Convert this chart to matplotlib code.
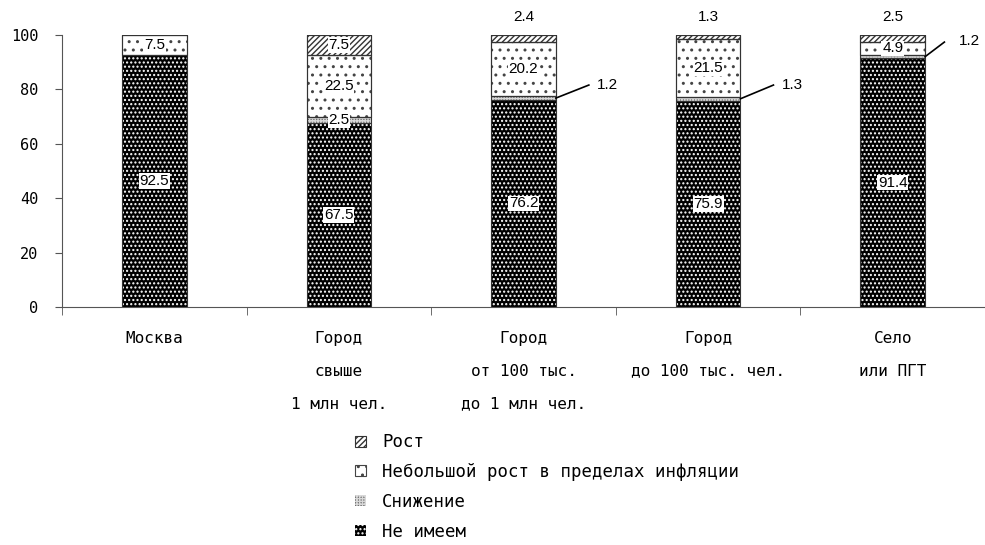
import numpy as np
import matplotlib.pyplot as plt

categories = ["Москва", "Город\nсвыше\n1 млн чел.", "Город\nот 100 тыс.\nдо 1 млн чел.",
              "Город\nдо 100 тыс. чел.", "Село\nили ПГТ"]
ne_imeem = [92.5, 67.5, 76.2, 75.9, 91.4]
snizhenie = [0.0, 2.5, 1.2, 1.3, 1.2]
nebolshoi = [7.5, 22.5, 20.2, 21.5, 4.9]
rost = [0.0, 7.5, 2.4, 1.3, 2.5]

series_names = ["Не имеем", "Снижение", "Небольшой рост в пределах инфляции", "Рост"]

plt.rcParams['hatch.linewidth'] = 1.0
label_font = ['DejaVu Sans Mono']
num_font = ['Liberation Sans']

fig = plt.figure(figsize=(9.85, 5.45), dpi=100)
ax = fig.add_axes([62 / 985, 1 - 307 / 545, (985 - 62) / 985, 272 / 545])

x = np.arange(len(categories))
w = 0.35

ne = np.array(ne_imeem)
sn = np.array(snizhenie)
nb = np.array(nebolshoi)
ro = np.array(rost)

b1 = ax.bar(x, ne, w, color='black', edgecolor='white', hatch='....', linewidth=0)
b2 = ax.bar(x, sn, w, bottom=ne, color='#6e6e6e', edgecolor='#d8d8d8', hatch='++++++', linewidth=0)
b3 = ax.bar(x, nb, w, bottom=ne + sn, color='white', edgecolor='#444444', hatch='..', linewidth=0.8)
b4 = ax.bar(x, ro, w, bottom=ne + sn + nb, color='white', edgecolor='#333333', hatch='//////', linewidth=0.8)

# outlines
for vals, bot in [(ne, 0), (sn, ne), (nb, ne + sn), (ro, ne + sn + nb)]:
    mask = vals > 0
    ax.bar(x[mask], vals[mask], w, bottom=(bot[mask] if np.ndim(bot) else 0),
           fill=False, edgecolor='#333333', linewidth=0.8)

box = dict(facecolor='white', edgecolor='none', pad=0.5)

def seg_label(xi, y, v):
    ax.text(xi, y, f"{v:.1f}", ha='center', va='center', fontsize=11,
            family=num_font, bbox=box)

for i in range(len(categories)):
    seg_label(x[i], ne[i] / 2, ne[i])
    if i == 1:
        seg_label(x[i], ne[i] + sn[i] / 2, sn[i])
        seg_label(x[i], ne[i] + sn[i] + nb[i] + ro[i] / 2, ro[i])
    seg_label(x[i], ne[i] + sn[i] + nb[i] / 2, nb[i])
    if i >= 2:
        ax.text(x[i], 106.5, f"{ro[i]:.1f}", ha='center', va='center', fontsize=11,
                family=num_font, clip_on=False)

# leader lines for the small "Снижение" segments
leaders = {2: (2.354, 81.6, 2.40, 81.6), 3: (3.354, 81.6, 3.40, 81.6), 4: (4.28, 97.4, 4.36, 97.8)}
for i, (lx, ly, tx, ty) in leaders.items():
    y0 = ne[i] + sn[i] / 2
    ax.plot([x[i] + w / 2, lx], [y0, ly], color='black', lw=1.2, clip_on=False)
    ax.text(tx, ty, f"{sn[i]:.1f}", ha='left', va='center', fontsize=11,
            family=num_font, clip_on=False)

ax.set_xlim(-0.5, 4.5)
ax.set_ylim(0, 100)
ax.set_yticks([0, 20, 40, 60, 80, 100])
ax.tick_params(axis='y', labelsize=11, length=5, pad=12, color='#555555')
for t in ax.get_yticklabels():
    t.set_family(label_font)

ax.set_xticks(x)
ax.set_xticklabels(categories, fontsize=11.5, family=label_font, linespacing=2.5)
ax.tick_params(axis='x', length=0, pad=17)
ax.set_xticks(np.arange(-0.5, 5, 1.0), minor=True)
ax.tick_params(axis='x', which='minor', length=6, color='#555555', direction='out')

for s in ['top', 'right']:
    ax.spines[s].set_visible(False)
ax.spines['left'].set_color('#555555')
ax.spines['bottom'].set_color('#555555')

leg = fig.legend([b4, b3, b2, b1], ["Рост", "Небольшой рост в пределах инфляции", "Снижение", "Не имеем"],
                 loc='upper left', bbox_to_anchor=(343 / 985, 1 - 421 / 545), frameon=False,
                 prop={'family': label_font, 'size': 12.5}, handlelength=0.6, handleheight=0.6,
                 labelspacing=0.68, handletextpad=0.95, borderpad=0.2)

fig.savefig('out.png', dpi=100)
